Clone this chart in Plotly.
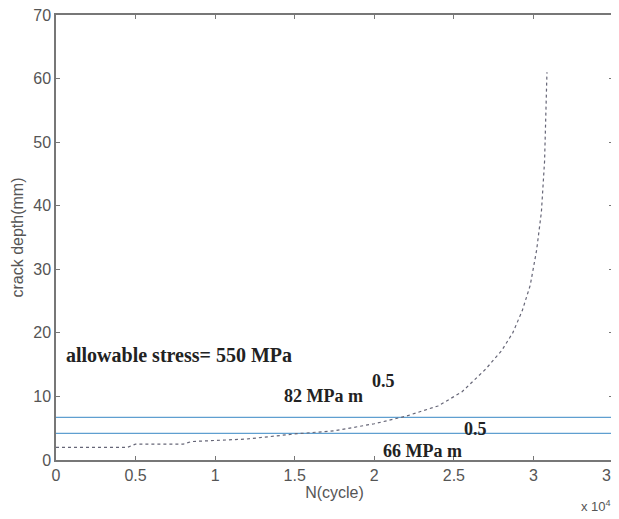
import plotly.graph_objects as go

# crack growth curve (N in units of 1e4 cycles, a in mm)
N_cycles = [0, 0.45, 0.5, 0.8, 0.85, 0.95, 1.2, 1.5, 1.75, 2.0, 2.2, 2.4, 2.55, 2.7, 2.8, 2.87, 2.93, 2.98, 3.02, 3.05, 3.07, 3.085]
crack_depth = [2.0, 2.0, 2.5, 2.5, 2.9, 3.0, 3.3, 4.1, 4.6, 5.7, 6.9, 8.5, 10.7, 14.3, 17.2, 20.0, 23.5, 27.5, 33.0, 39.0, 47.0, 61.0]

# critical crack depth lines
crit_82 = 6.7
crit_66 = 4.2
x_range = [0, 3.5]

x_ticks = [0, 0.5, 1, 1.5, 2, 2.5, 3, 3.5]
x_tick_labels = ["0", "0.5", "1", "1.5", "2", "2.5", "3", "3.5"]
y_ticks = [0, 10, 20, 30, 40, 50, 60, 70]

fig = go.Figure()
fig.add_trace(go.Scatter(x=x_range, y=[crit_82, crit_82], mode="lines",
                         line=dict(color="#5f9fd0", width=1.2), showlegend=False))
fig.add_trace(go.Scatter(x=x_range, y=[crit_66, crit_66], mode="lines",
                         line=dict(color="#5f9fd0", width=1.2), showlegend=False))
fig.add_trace(go.Scatter(x=N_cycles, y=crack_depth, mode="lines",
                         line=dict(color="#666677", width=1.2, dash="3px,3px"), showlegend=False))

serif = dict(family="Liberation Serif", size=18, color="#222")
fig.add_annotation(x=0.05, y=16.5, text="<b>allowable stress= 550 MPa</b>", showarrow=False,
                   xanchor="left", yanchor="middle", font=dict(family="Liberation Serif", size=20, color="#222"))
fig.add_annotation(x=1.42, y=10.1, text="<b>82 MPa m</b>", showarrow=False,
                   xanchor="left", yanchor="middle", font=serif)
fig.add_annotation(x=1.97, y=12.4, text="<b>0.5</b>", showarrow=False,
                   xanchor="left", yanchor="middle", font=serif)
fig.add_annotation(x=2.04, y=1.4, text="<b>66 MPa m</b>", showarrow=False,
                   xanchor="left", yanchor="middle", font=serif)
fig.add_annotation(x=2.55, y=4.9, text="<b>0.5</b>", showarrow=False,
                   xanchor="left", yanchor="middle", font=serif)
fig.add_annotation(x=1.0, y=0, xref="paper", yref="paper", text="x 10<sup>4</sup>",
                   showarrow=False, xanchor="right", yanchor="top", yshift=-36, xshift=0,
                   font=dict(family="Liberation Sans", size=13, color="#555"))

axis_common = dict(showgrid=False, zeroline=False, showline=True, linecolor="#777", linewidth=1.5,
                   mirror="ticks", ticks="inside", ticklen=4, tickcolor="#777",
                   ticklabeloverflow="allow", automargin=False,
                   tickfont=dict(family="Liberation Sans", size=16, color="#555"))
fig.update_xaxes(range=x_range, tickvals=x_ticks, ticktext=x_tick_labels,
                 title=dict(text="N(cycle)", font=dict(family="Liberation Sans", size=16, color="#555"), standoff=4),
                 **axis_common)
fig.update_yaxes(range=[0, 70], tickvals=y_ticks,
                 title=dict(text="crack depth(mm)", font=dict(family="Liberation Sans", size=16, color="#555"), standoff=6),
                 **axis_common)
# page body has an 8px margin, so the figure is sized to fit the 619x519 window
fig.update_layout(width=611, height=511, margin=dict(l=48, r=6, t=7, b=59),
                  paper_bgcolor="white", plot_bgcolor="white")
fig.write_html("out.html")
